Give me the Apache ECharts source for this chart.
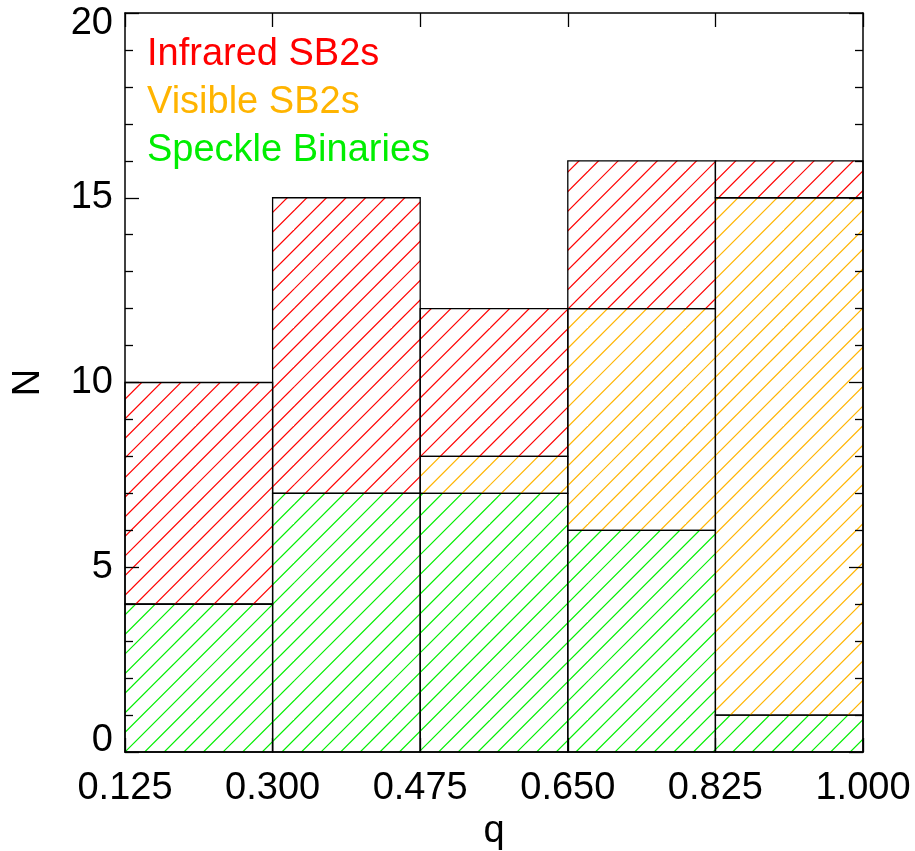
<!DOCTYPE html>
<html>
<head>
<meta charset="utf-8">
<script src="https://cdn.jsdelivr.net/npm/echarts@6/dist/echarts.min.js"></script>
<style>
  html, body { margin: 0; padding: 0; background: #fff; }
  #chart { width: 915px; height: 851px; }
</style>
</head>
<body>
<div id="chart"></div>
<script>
// Bin edges of the mass-ratio histogram (tick labels on the q axis)
const binLabels = ['0.125', '0.300', '0.475', '0.650', '0.825', '1.000'];

// Counts per bin, stacked bottom to top
const speckleCounts  = [4, 7, 7, 6, 1];
const visibleCounts  = [0, 0, 1, 6, 14];
const infraredCounts = [6, 8, 4, 4, 1];

const seriesNames = ['Speckle Binaries', 'Visible SB2s', 'Infrared SB2s'];
const seriesColors = ['#00ee00', '#ffb400', '#ff0000'];

const FONT = '"Liberation Sans", Arial, Helvetica, sans-serif';
const FS = 38;

// Diagonal hatch tile: 98px holds exactly five 19.6px line periods,
// so the pattern repeats seamlessly across the canvas.
function hatchPattern(color) {
  const size = 98, period = 19.6, phase = 14.6;
  const c = document.createElement('canvas');
  c.width = size; c.height = size;
  const ctx = c.getContext('2d');
  ctx.strokeStyle = color;
  ctx.lineWidth = 1.2;
  for (let k = -2; k <= 12; k++) {
    const s = phase + k * period; // line x + y = s
    ctx.beginPath();
    ctx.moveTo(s + 10, -10);
    ctx.lineTo(-10, s + 10);
    ctx.stroke();
  }
  return { image: c, repeat: 'repeat' };
}

// Build [binIndex, base, top] rows for each stacked layer
const layers = [speckleCounts, visibleCounts, infraredCounts];
const cumulative = [0, 0, 0, 0, 0];
const layerData = layers.map(counts => counts.map((v, i) => {
  const base = cumulative[i];
  cumulative[i] += v;
  return [i, base, base + v];
}));

function makeSeries(idx) {
  const pattern = hatchPattern(seriesColors[idx]);
  return {
    type: 'custom',
    name: seriesNames[idx],
    coordinateSystem: 'cartesian2d',
    color: seriesColors[idx],
    data: layerData[idx],
    encode: { x: 0, y: [1, 2] },
    renderItem: function (params, api) {
      const i = api.value(0);
      const p0 = api.coord([i, api.value(1)]);
      const p1 = api.coord([i + 1, api.value(2)]);
      return {
        type: 'rect',
        shape: { x: p0[0], y: p1[1], width: p1[0] - p0[0], height: p0[1] - p1[1] },
        style: { fill: pattern, stroke: '#000', lineWidth: 1.3 }
      };
    },
    z: 2 + idx
  };
}

const axisLineStyle = { show: true, onZero: false, lineStyle: { color: '#000', width: 1.5 } };
const majorTick = { show: true, inside: true, length: 14, lineStyle: { color: '#000', width: 1.3 } };
const minorTick = { show: true, splitNumber: 5, length: 8, lineStyle: { color: '#000', width: 1.3 } };

const chart = echarts.init(document.getElementById('chart'), null, { renderer: 'canvas' });
chart.setOption({
  backgroundColor: '#fff',
  animation: false,
  grid: { left: 125, right: 52, top: 13, bottom: 99, containLabel: false, outerBoundsMode: 'none' },
  legend: {
    orient: 'vertical',
    left: 137,
    top: 31,
    itemWidth: 0,
    itemHeight: 0,
    itemGap: 10,
    selectedMode: false,
    textStyle: { fontFamily: FONT, fontSize: FS },
    data: [
      { name: 'Infrared SB2s', icon: 'none', textStyle: { color: seriesColors[2] } },
      { name: 'Visible SB2s', icon: 'none', textStyle: { color: seriesColors[1] } },
      { name: 'Speckle Binaries', icon: 'none', textStyle: { color: seriesColors[0] } }
    ]
  },
  xAxis: [
    {
      type: 'value', min: 0, max: 5, interval: 1, position: 'bottom', z: 10,
      name: 'q', nameLocation: 'middle', nameGap: 55,
      nameTextStyle: { fontFamily: FONT, fontSize: FS, color: '#000' },
      axisLine: axisLineStyle,
      axisTick: majorTick,
      axisLabel: {
        fontFamily: FONT, fontSize: FS, color: '#000', margin: 18,
        formatter: v => binLabels[v]
      },
      splitLine: { show: false }
    },
    {
      type: 'value', min: 0, max: 5, interval: 1, position: 'top', z: 10,
      axisLine: axisLineStyle,
      axisTick: majorTick,
      axisLabel: { show: false },
      splitLine: { show: false }
    }
  ],
  yAxis: [
    {
      type: 'value', min: 0, max: 20, interval: 5, position: 'left', z: 10,
      name: 'N', nameLocation: 'middle', nameGap: 77, nameRotate: 90,
      nameTextStyle: { fontFamily: FONT, fontSize: FS, color: '#000' },
      axisLine: axisLineStyle,
      axisTick: majorTick,
      minorTick: minorTick,
      axisLabel: {
        fontFamily: FONT, fontSize: FS, color: '#000', margin: 12,
        formatter: v => v === 0 ? '{lo|0}' : (v === 20 ? '{hi|20}' : '{n|' + v + '}'),
        rich: {
          n: { fontFamily: FONT, fontSize: FS, color: '#000' },
          lo: { fontFamily: FONT, fontSize: FS, color: '#000', padding: [0, 0, 22, 0] },
          hi: { fontFamily: FONT, fontSize: FS, color: '#000', padding: [22, 0, 0, 0] }
        }
      },
      splitLine: { show: false },
      minorSplitLine: { show: false }
    },
    {
      type: 'value', min: 0, max: 20, interval: 5, position: 'right', z: 10,
      axisLine: axisLineStyle,
      axisTick: majorTick,
      minorTick: minorTick,
      axisLabel: { show: false },
      splitLine: { show: false },
      minorSplitLine: { show: false }
    }
  ],
  series: [makeSeries(0), makeSeries(1), makeSeries(2)]
});
</script>
</body>
</html>
